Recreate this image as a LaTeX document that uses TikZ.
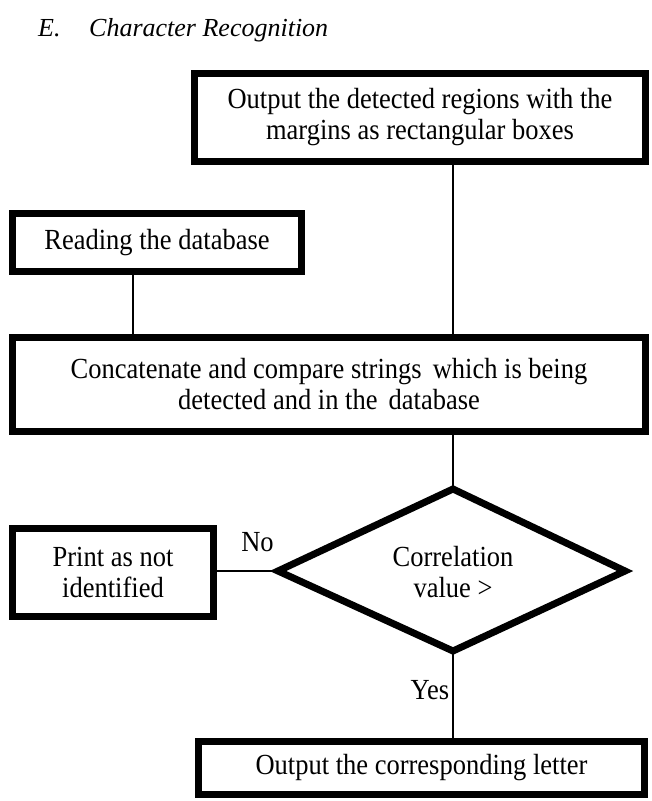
\documentclass[tikz,border=0pt]{standalone}
\usepackage{graphicx}
\usepackage{fontspec}
\setmainfont{Liberation Serif}
\newcommand{\tallline}[1]{\scalebox{1}[1.1]{#1}}
\begin{document}
\begin{tikzpicture}[x=1pt,y=-1pt,
  box/.style={draw, line width=7pt, fill=white, align=center, inner sep=0pt,
    font=\fontsize{26.5}{31}\selectfont},
  conn/.style={line width=1.4pt},
  lbl/.style={font=\fontsize{26.5}{31}\selectfont, inner sep=0pt},
  ttl/.style={anchor=base west, inner sep=0pt, font=\itshape\fontsize{26}{30}\selectfont}]
\useasboundingbox (0,0) rectangle (652,801);
\fill[white] (0,0) rectangle (652,801);

% title
\node[ttl] (t1) at (38,36) {E.};
\node[ttl] (t2) at (89,36) {Character Recognition};

% boxes
\node[box, minimum width=451pt, minimum height=88pt] (b1) at (420,117.5)
  {\tallline{Output the detected regions with the}\\\tallline{margins as rectangular boxes}};
\node[box, minimum width=289pt, minimum height=58pt] (b2) at (157,242.5)
  {\tallline{Reading the database}};
\node[box, minimum width=633pt, minimum height=94pt] (b3) at (329,384.5)
  {\tallline{Concatenate and compare strings\ \,which is being}\\\tallline{detected and in the\ \,database}};
\node[box, minimum width=201pt, minimum height=88pt] (b4) at (113,572.5)
  {\tallline{Print as not}\\\tallline{identified}};
\node[box, minimum width=446pt, minimum height=53pt] (b5) at (421.5,768)
  {\tallline{Output the corresponding letter}};

% decision diamond
\coordinate (dt) at (453,489);
\coordinate (db) at (453,651);
\coordinate (dl) at (278,571);
\coordinate (dr) at (625,571);
\draw[line width=7pt, line join=miter, fill=white] (dt) -- (dr) -- (db) -- (dl) -- cycle;
\node[lbl, align=center] (dtext) at (453,572) {\tallline{Correlation}\\\tallline{value >}};

% connector columns
\coordinate (xa) at (133,0);
\coordinate (xb) at (453,0);

\draw[conn] (b2.south -| xa) -- (b3.north -| xa);
\draw[conn] (b1.south -| xb) -- (b3.north -| xb);
\draw[conn] (b3.south -| xb) -- (dt);
\draw[conn] (b4.east |- dl) -- (dl);
\draw[conn] (db) -- (b5.north -| xb);

% labels
\node[lbl] (no) at (257.5,542) {\tallline{No}};
\node[lbl] (yes) at (430,690) {\tallline{Yes}};
\end{tikzpicture}
\end{document}
